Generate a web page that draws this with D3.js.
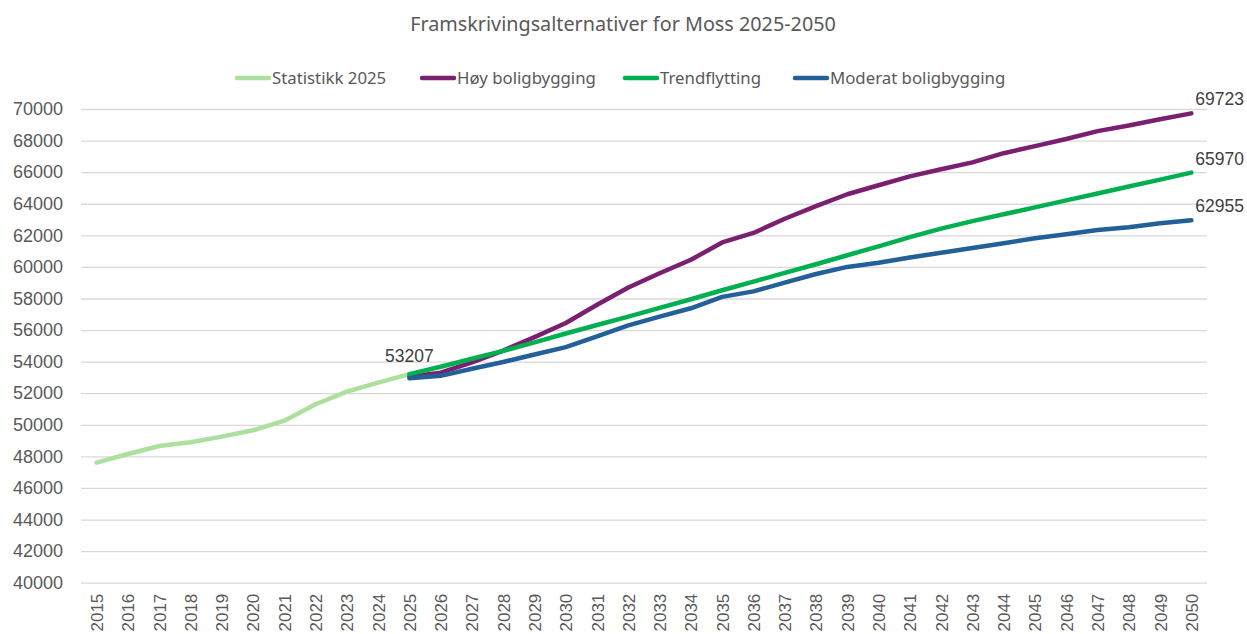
<!DOCTYPE html>
<html>
<head>
<meta charset="utf-8">
<script src="https://cdn.jsdelivr.net/npm/d3@7"></script>
<style>
  body { margin: 0; background: #fff; }
  svg { display: block; }
</style>
</head>
<body>
<svg id="chart"></svg>
<script>
const years = ['2015', '2016', '2017', '2018', '2019', '2020', '2021', '2022', '2023', '2024', '2025',
  '2026', '2027', '2028', '2029', '2030', '2031', '2032', '2033', '2034', '2035', '2036', '2037', '2038',
  '2039', '2040', '2041', '2042', '2043', '2044', '2045', '2046', '2047', '2048', '2049', '2050'];

const statYears = ['2015', '2016', '2017', '2018', '2019', '2020', '2021', '2022', '2023', '2024', '2025'];
const statistikk = [47600, 48150, 48660, 48890, 49250, 49650, 50260, 51300, 52100, 52670, 53207];

const projYears = ['2025', '2026', '2027', '2028', '2029', '2030', '2031', '2032', '2033', '2034', '2035',
  '2036', '2037', '2038', '2039', '2040', '2041', '2042', '2043', '2044', '2045', '2046', '2047', '2048',
  '2049', '2050'];
const hoy = [53050, 53300, 53950, 54700, 55550, 56450, 57600, 58700, 59600, 60450, 61550,
  62150, 63050, 63850, 64600, 65170, 65730, 66180, 66620, 67200, 67650, 68100, 68600, 68950,
  69350, 69723];
const trend = [53207, 53680, 54180, 54680, 55220, 55780, 56320, 56850, 57400, 57950, 58520,
  59070, 59620, 60170, 60740, 61300, 61880, 62420, 62900, 63330, 63770, 64210, 64650, 65090,
  65530, 65970];
const moderat = [52950, 53100, 53550, 53980, 54450, 54920, 55600, 56300, 56850, 57380, 58100,
  58450, 59000, 59550, 60000, 60260, 60590, 60890, 61200, 61500, 61810, 62070, 62340, 62510,
  62760, 62955];

const yTicks = [40000, 42000, 44000, 46000, 48000, 50000, 52000, 54000, 56000, 58000, 60000,
  62000, 64000, 66000, 68000, 70000];

const seriesNames = ['Statistikk 2025', 'Høy boligbygging', 'Trendflytting', 'Moderat boligbygging'];
const seriesColors = ['#addf9f', '#7b2071', '#00b050', '#23609a'];

const width = 1247;
const height = 634;
const plotLeft = 81;
const plotRight = 1207;
const plotTop = 109;
const plotBottom = 582.7;

const svg = d3.select('#chart').attr('width', width).attr('height', height);

const x = d3.scalePoint().domain(years).range([plotLeft, plotRight]).padding(0.5);
const y = d3.scaleLinear().domain([40000, 70000]).range([plotBottom, plotTop]);

// title
svg.append('text')
  .attr('x', 623)
  .attr('y', 31)
  .attr('text-anchor', 'middle')
  .style('font-family', 'Noto Sans, sans-serif')
  .style('font-size', '19.8px')
  .style('fill', '#595959')
  .text('Framskrivingsalternativer for Moss 2025-2050');

// y axis with gridlines
const yAxis = d3.axisLeft(y)
  .tickValues(yTicks)
  .tickFormat(d3.format('d'))
  .tickSize(-(plotRight - plotLeft))
  .tickPadding(18);

const gy = svg.append('g')
  .attr('transform', 'translate(' + plotLeft + ',0)')
  .call(yAxis);
gy.select('.domain').remove();
gy.selectAll('line').attr('stroke', '#d9d9d9').attr('stroke-width', 1.3);
gy.selectAll('text')
  .style('font-family', 'Liberation Sans, Arial, sans-serif')
  .style('font-size', '18px')
  .style('fill', '#595959');

// x axis
const xAxis = d3.axisBottom(x).tickSize(0).tickPadding(0);
const gx = svg.append('g')
  .attr('transform', 'translate(0,' + plotBottom + ')')
  .call(xAxis);
gx.select('.domain').remove();
gx.selectAll('text')
  .attr('transform', 'rotate(-90)')
  .attr('x', -11)
  .attr('y', 0)
  .attr('dy', '0.35em')
  .attr('text-anchor', 'end')
  .style('font-family', 'Liberation Sans, Arial, sans-serif')
  .style('font-size', '17px')
  .style('fill', '#595959');

// lines
const line = d3.line()
  .x((d) => x(d.year))
  .y((d) => y(d.value));

const seriesData = [
  statYears.map((yr, i) => ({ year: yr, value: statistikk[i] })),
  projYears.map((yr, i) => ({ year: yr, value: hoy[i] })),
  projYears.map((yr, i) => ({ year: yr, value: trend[i] })),
  projYears.map((yr, i) => ({ year: yr, value: moderat[i] })),
];

svg.selectAll('path.series')
  .data(seriesData)
  .enter()
  .append('path')
  .attr('class', 'series')
  .attr('d', line)
  .attr('fill', 'none')
  .attr('stroke', (d, i) => seriesColors[i])
  .attr('stroke-width', 4.5)
  .attr('stroke-linecap', 'round')
  .attr('stroke-linejoin', 'round');

// data labels
const labelStyle = (sel) => sel
  .style('font-family', 'Liberation Sans, Arial, sans-serif')
  .style('font-size', '17.5px')
  .style('fill', '#404040');

const lastStat = statistikk[statistikk.length - 1];
svg.append('text')
  .attr('x', x(statYears[statYears.length - 1]))
  .attr('y', y(lastStat) - 12)
  .attr('text-anchor', 'middle')
  .call(labelStyle)
  .text(lastStat);

[hoy, trend, moderat].forEach((vals) => {
  const v = vals[vals.length - 1];
  svg.append('text')
    .attr('x', x(projYears[projYears.length - 1]) + 4)
    .attr('y', y(v) - 8)
    .call(labelStyle)
    .text(v);
});

// legend
const legendX = [235, 420, 623, 793];
const legend = svg.append('g');
seriesNames.forEach((name, i) => {
  const g = legend.append('g').attr('transform', 'translate(' + legendX[i] + ',78)');
  g.append('line')
    .attr('x1', 2).attr('x2', 34)
    .attr('y1', 0).attr('y2', 0)
    .attr('stroke', seriesColors[i])
    .attr('stroke-width', 4.5)
    .attr('stroke-linecap', 'round');
  g.append('text')
    .attr('x', 37)
    .attr('y', 6)
    .style('font-family', 'Noto Sans, sans-serif')
    .style('font-size', '16.8px')
    .style('fill', '#595959')
    .text(name);
});
</script>
</body>
</html>
